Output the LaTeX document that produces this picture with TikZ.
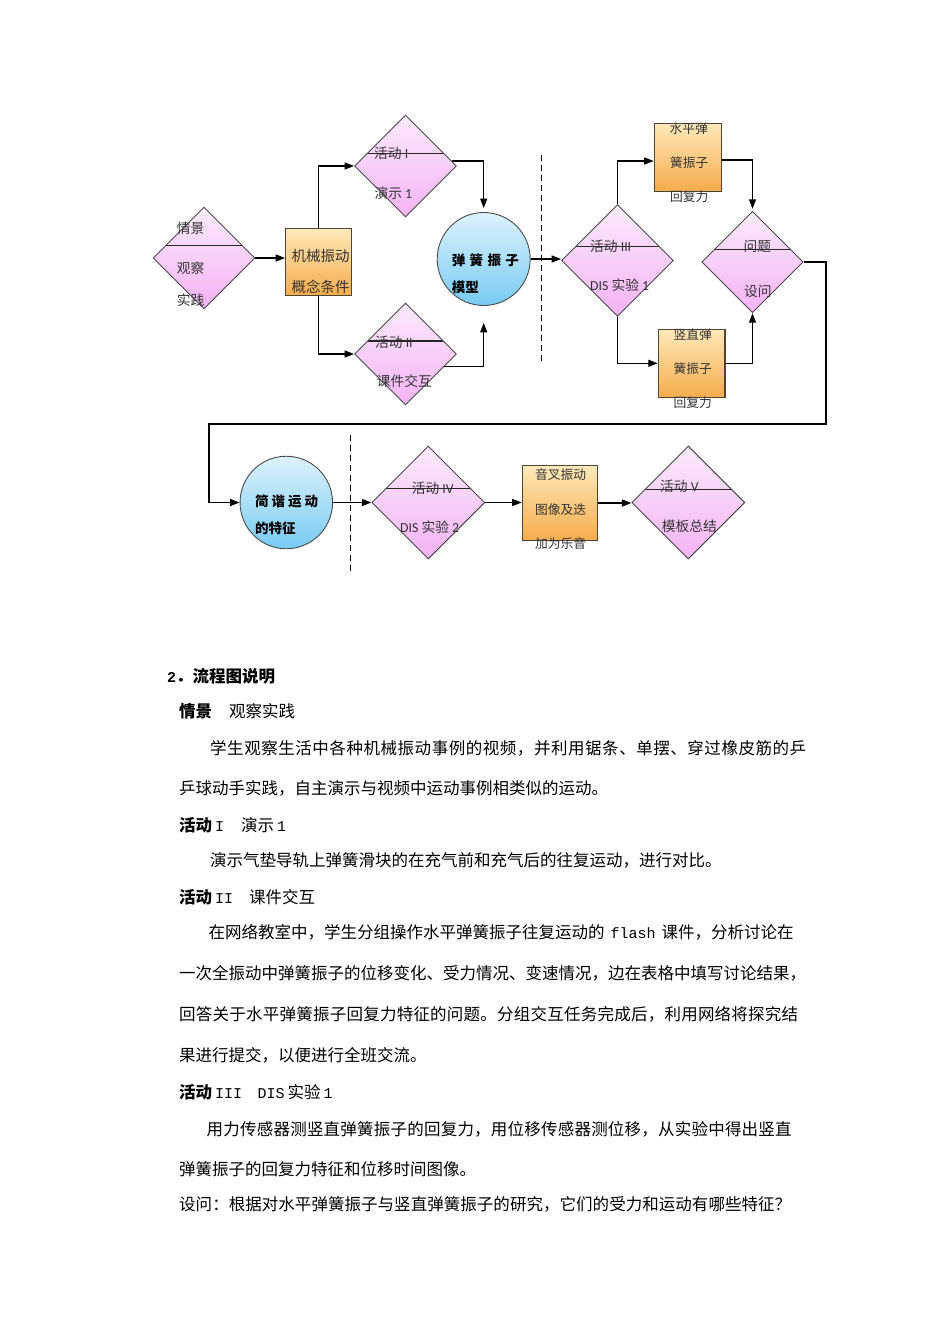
\documentclass[tikz,border=0pt]{standalone}
\usepackage{fontspec}
\setmainfont{Noto Sans CJK SC}
\newfontfamily\lat{Carlito}
\newfontfamily\mono{Liberation Mono}
\usetikzlibrary{shapes.geometric,arrows.meta,calc}
\definecolor{dtop}{HTML}{FCEBFC}
\definecolor{dbot}{HTML}{F4B2F4}
\definecolor{btop}{HTML}{FEE9BA}
\definecolor{bbot}{HTML}{F6AC4C}
\definecolor{ctop}{HTML}{DDF2FC}
\definecolor{cbot}{HTML}{78CBF3}
\definecolor{tgray}{HTML}{333333}
\definecolor{edgegray}{HTML}{4A4A4A}
\definecolor{boxedge}{HTML}{4E4536}
\makeatletter
\newcommand\spreadchars[1]{\let\sp@sep\relax\@tfor\sp@tok:=#1\do{\sp@sep{\sp@tok}\def\sp@sep{\hskip 0pt plus 1fil}}}
\makeatother
\newcommand\jline[2]{\makebox[#1][s]{\spreadchars{#2}}}
\newcommand\mn[1]{{\mono\fontsize{15}{17}\selectfont #1}}
\begin{document}
\begin{tikzpicture}[x=1pt,y=-1pt,
  diam/.style={diamond, draw=edgegray, line width=0.9pt, top color=dtop, bottom color=dbot,
    inner sep=0pt, minimum width=#1, minimum height=#1},
  bar/.style={path picture={\draw[line width=1.1pt, black!85]
    ([yshift=#1]path picture bounding box.west) -- ([yshift=#1]path picture bounding box.east);}},
  box/.style={rectangle, draw=boxedge, line width=1.2pt, top color=btop, bottom color=bbot, inner sep=0pt},
  circ/.style={circle, draw=edgegray, line width=0.9pt, top color=ctop, bottom color=cbot, inner sep=0pt},
  arr/.style={-{Triangle[length=9.5pt,width=7pt]}, line width=1.4pt, black},
  sep/.style={line width=1.5pt, black, dash pattern=on 6pt off 4pt},
  t/.style={anchor=west, inner sep=0pt, text=tgray, font=\fontsize{13.75}{15}\selectfont},
  ts/.style={t, font=\fontsize{12.75}{14}\selectfont},
  tc/.style={anchor=west, inner sep=0pt, text=black, font=\bfseries\fontsize{13.5}{15}\selectfont},
  bt/.style={anchor=west, inner sep=0pt, text=black, font=\fontsize{16.5}{18}\selectfont}
]
\fill[white] (0,0) rectangle (950,1344);
\useasboundingbox (0,0) rectangle (950,1344);

% ---------- top row shapes ----------
\node[diam=102pt, bar=12.3pt] (d0) at (204,258) {};
\node[box, minimum width=66pt, minimum height=67.4pt] (b1) at (318.7,262) {};
\node[diam=102pt, bar=12.7pt] (d1) at (405.5,166) {};
\node[diam=102pt, bar=13pt] (d2) at (405.5,354) {};
\node[circ, minimum size=93pt] (c1) at (483.7,259) {};
\node[diam=112pt, bar=14.3pt] (d3) at (617.5,260.5) {};
\node[box, minimum width=67.4pt, minimum height=68.4pt] (b2) at (688,157.5) {};
\node[box, minimum width=66.7pt, minimum height=68pt] (b3) at (691.7,363.3) {};
\node[diam=101.5pt, bar=12.7pt] (d4) at (752.5,262) {};

% ---------- bottom row shapes ----------
\node[circ, minimum size=92.5pt] (c2) at (286.3,502.5) {};
\node[diam=113pt, bar=14pt] (d5) at (428.3,502.5) {};
\node[box, minimum width=75pt, minimum height=75.3pt] (b4) at (559.8,503) {};
\node[diam=113pt, bar=13.3pt] (d6) at (688.3,502.5) {};

% ---------- separators ----------
\coordinate (s1a) at (541.7,155);
\coordinate (s1b) at (541.7,364);
\coordinate (s2a) at (350.7,435);
\coordinate (s2b) at (350.7,572);
\draw[sep] (s1a) -- (s1b);
\draw[sep] (s2a) -- (s2b);

% ---------- connectors ----------
\draw[arr] (d0.east) -- (d0.east -| b1.west);
\draw[arr] (b1.north) |- (d1.west);
\draw[arr] (b1.south) |- (d2.west);
\draw[arr] ([xshift=-5pt,yshift=5pt]d1.east) -| ([yshift=4pt]c1.north);
\draw[arr] ([xshift=-12.7pt,yshift=-12.7pt]d2.east) -| ([yshift=-17pt]c1.south);
\draw[arr] (c1.east) -- (c1.east -| d3.west);
\draw[arr] (d3.north) |- ([yshift=-3.5pt]b2.west);
\draw[arr] ([yshift=-2.5pt]b2.east) -| ([yshift=2pt]d4.north);
\draw[arr] (d3.south) |- (b3.west);
\draw[arr] (b3.east) -| (d4.south);
\coordinate (r1) at (826,424);
\coordinate (l1) at (209,424);
\draw[arr] (d4.east) -| (r1) -- (l1) |- (c2.west);
\draw[arr] (c2.east) -- (c2.east -| d5.west);
\draw[arr] (d5.east) -- (d5.east -| b4.west);
\draw[arr] (b4.east) -- (b4.east -| d6.west);

% ---------- diagram texts ----------
\node[t] (x01) at (176.7,228) {情景};
\node[t] (x02) at (176.7,268) {观察};
\node[t] (x03) at (176.7,300.5) {实践};
\node[t, font=\fontsize{14.5}{16}\selectfont] (x11) at (291.5,256) {机械振动};
\node[t, font=\fontsize{14.5}{16}\selectfont] (x12) at (291.5,287.3) {概念条件};
\node[t] (x21) at (374,153.5) {活动 {\lat I}};
\node[t] (x22) at (374.3,193) {演示 {\lat 1}};
\node[t] (x31) at (375,342) {活动 {\lat II}};
\node[t] (x32) at (376.7,381.5) {课件交互};
\node[tc] (x41) at (451.7,260) {\makebox[67pt][s]{弹\hfill 簧\hfill 振\hfill 子}};
\node[tc] (x42) at (451.7,287) {模型};
\node[t] (x51) at (590,246.7) {活动 {\lat III}};
\node[t] (x52) at (590,285) {{\lat DIS} 实验 {\lat 1}};
\node[ts] (x61) at (669.5,128.5) {水平弹};
\node[ts] (x62) at (670,163) {簧振子};
\node[ts] (x63) at (670,197) {回复力};
\node[ts] (x71) at (673.3,335) {竖直弹};
\node[ts] (x72) at (673.3,368.3) {簧振子};
\node[ts] (x73) at (673.3,403) {回复力};
\node[t] (x81) at (743.3,246.5) {问题};
\node[t] (x82) at (744,291) {设问};
\node[tc] (x91) at (255,501.7) {\makebox[63pt][s]{简\hfill 谐\hfill 运\hfill 动}};
\node[tc] (x92) at (255,528.3) {的特征};
\node[t] (xa1) at (411.7,488.5) {活动 {\lat IV}};
\node[t] (xa2) at (400,527.3) {{\lat DIS} 实验 {\lat 2}};
\node[ts] (xb1) at (535,474.3) {音叉振动};
\node[ts] (xb2) at (535,509.3) {图像及迭};
\node[ts] (xb3) at (535,543.3) {加为乐音};
\node[t] (xc1) at (660,486.5) {活动 {\lat V}};
\node[t] (xc2) at (661.7,526.7) {模板总结};

% ---------- body text ----------
\node[bt, font=\bfseries\fontsize{16.5}{18}\selectfont] (h0) at (167,676.5) {\mn{2}．流程图说明};
\node[bt] (h1a) at (179,711.5) {\textbf{情景}};
\node[bt] (h1b) at (229,711.5) {观察实践};
\node[bt] (p1a) at (210,748) {\jline{596pt}{学生观察生活中各种机械振动事例的视频，并利用锯条、单摆、穿过橡皮筋的乒}};
\node[bt] (p1b) at (179,788) {乒球动手实践，自主演示与视频中运动事例相类似的运动。};
\node[bt] (h2a) at (179,825) {\textbf{活动}\hspace{3pt}\mn{I}};
\node[bt] (h2b) at (241,825) {演示\hspace{3pt}\mn{1}};
\node[bt] (p2) at (210,860) {演示气垫导轨上弹簧滑块的在充气前和充气后的往复运动，进行对比。};
\node[bt] (h3a) at (179,897) {\textbf{活动}\hspace{3pt}\mn{II}};
\node[bt] (h3b) at (249,897) {课件交互};
\node[bt] (p3a) at (208.5,932.5) {\jline{583pt}{在网络教室中，学生分组操作水平弹簧振子往复运动的{\mn{\ flash\ }}课件，分析讨论在}};
\node[bt] (p3b) at (179,973.5) {\jline{627pt}{一次全振动中弹簧振子的位移变化、受力情况、变速情况，边在表格中填写讨论结果，}};
\node[bt] (p3c) at (179,1014.5) {\jline{619pt}{回答关于水平弹簧振子回复力特征的问题。分组交互任务完成后，利用网络将探究结}};
\node[bt] (p3d) at (179,1055) {果进行提交，以便进行全班交流。};
\node[bt] (h4a) at (179,1092) {\textbf{活动}\hspace{3pt}\mn{III}};
\node[bt] (h4b) at (257.5,1092) {\mn{DIS}\hspace{3pt}实验\hspace{3pt}\mn{1}};
\node[bt] (p4a) at (206.5,1129) {\jline{585pt}{用力传感器测竖直弹簧振子的回复力，用位移传感器测位移，从实验中得出竖直}};
\node[bt] (p4b) at (179,1169) {弹簧振子的回复力特征和位移时间图像。};
\node[bt] (p4c) at (179,1204.5) {\jline{612pt}{设问：根据对水平弹簧振子与竖直弹簧振子的研究，它们的受力和运动有哪些特征？}};
\end{tikzpicture}
\end{document}
